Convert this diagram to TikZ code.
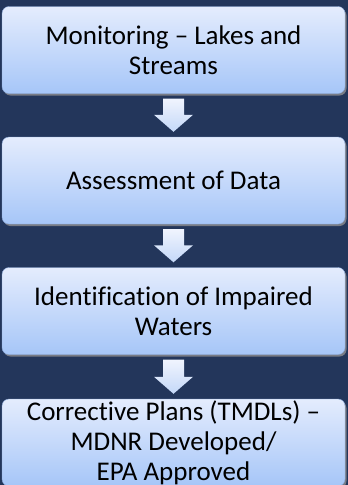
\documentclass[tikz,border=0pt]{standalone}
\usepackage{fontspec}
\setmainfont[Ligatures={NoCommon,NoRare}]{Carlito}
\usetikzlibrary{calc,shadows}
\definecolor{navy}{RGB}{35,54,91}
\definecolor{boxtop}{RGB}{228,236,253}
\definecolor{boxbot}{RGB}{166,198,248}
\definecolor{arrtop}{RGB}{240,244,254}
\definecolor{arrbot}{RGB}{196,216,248}
\definecolor{boxshadow}{RGB}{120,124,134}
\tikzset{
  stagebox/.style={rectangle, rounded corners=7pt, minimum width=343pt,
    minimum height=87pt, top color=boxtop, bottom color=boxbot,
    draw=boxbot!80!navy, line width=0.4pt, align=center, inner sep=0pt,
    font=\fontsize{27}{30}\selectfont, text=black,
    drop shadow={shadow xshift=1.5pt, shadow yshift=-2pt, fill=boxshadow, opacity=1}},
  flowshade/.style={top color=arrtop, bottom color=arrbot, draw=none}
}
% block arrow pointing down, from the bottom of one stage to the top of the next
\newcommand{\stagearrow}[2]{%
  \coordinate (s) at ($(#1.south)+(0,-5pt)$);
  \coordinate (t) at ($(#2.north)+(0,5pt)$);
  \shade[flowshade] ($(s)+(-10.5pt,0)$) -- ($(s)+(10.5pt,0)$)
    -- ($(t)+(10.5pt,17pt)$) -- ($(t)+(19.5pt,17pt)$) -- (t)
    -- ($(t)+(-19.5pt,17pt)$) -- ($(t)+(-10.5pt,17pt)$) -- cycle;}
\begin{document}
\begin{tikzpicture}[x=1pt,y=-1pt]
  \fill[navy] (0,0) rectangle (348,485);
  \useasboundingbox (0,0) rectangle (348,485);
  \node[stagebox] (mon) at (173.5,50) {Monitoring -- Lakes and\\Streams};
  \node[stagebox] (ass) at (173.5,180.5) {Assessment of Data};
  \node[stagebox] (ide) at (173.5,311) {Identification of Impaired\\Waters};
  \node[stagebox] (cor) at (173.5,442.5) {Corrective Plans (TMDLs) --\\MDNR Developed/\\EPA Approved};
  \stagearrow{mon}{ass}
  \stagearrow{ass}{ide}
  \stagearrow{ide}{cor}
\end{tikzpicture}
\end{document}
